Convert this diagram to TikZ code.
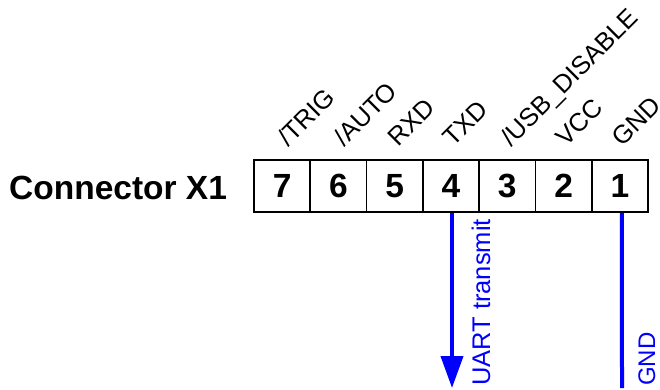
\documentclass[tikz,border=0pt]{standalone}
\usepackage{fontspec}
\setmainfont{Liberation Sans}
\usetikzlibrary{arrows.meta}
\definecolor{sigblue}{RGB}{0,0,255}
\begin{document}
\begin{tikzpicture}[x=1pt,y=-1pt,
  cell/.style={draw=black,line width=1.8pt,minimum width=56.3pt,minimum height=52pt,inner sep=0pt,
    font=\fontsize{33.5}{33.5}\selectfont\bfseries},
  pinlbl/.style={rotate=45,anchor=base west,inner sep=0pt,font=\fontsize{25.5}{25.5}\selectfont},
  sig/.style={draw=sigblue,line width=4pt},
  siglbl/.style={rotate=90,anchor=base west,inner sep=0pt,text=sigblue,font=\fontsize{24}{24}\selectfont}]
\useasboundingbox (0,0) rectangle (660,390);
\node[anchor=base west,inner sep=0pt,font=\fontsize{33.5}{33.5}\selectfont\bfseries] (title) at (9,199) {Connector X1};
\node[cell] (c7) at (282.1,186) {7};
\node[cell] (c6) at (338.4,186) {6};
\node[cell] (c5) at (394.7,186) {5};
\node[cell] (c4) at (451.0,186) {4};
\node[cell] (c3) at (507.3,186) {3};
\node[cell] (c2) at (563.6,186) {2};
\node[cell] (c1) at (619.9,186) {1};
\node[pinlbl] (l7) at (288,148) {/TRIG};
\node[pinlbl] (l6) at (344,148) {/AUTO};
\node[pinlbl] (l5) at (398,148) {RXD};
\node[pinlbl] (l4) at (453,148) {TXD};
\node[pinlbl] (l3) at (511,148) {/USB\_DISABLE};
\node[pinlbl] (l2) at (566,148) {VCC};
\node[pinlbl] (l1) at (622,148) {GND};
\coordinate (txend) at (452,388);
\coordinate (gndend) at (622,388);
\draw[sig,-{Triangle[width=22pt,length=32pt]}] ([xshift=1pt]c4.south) -- (txend);
\draw[sig] ([xshift=2pt]c1.south) -- (gndend);
\node[siglbl,font=\fontsize{25.5}{25.5}\selectfont] (txlbl) at (490,386) {UART transmit};
\node[siglbl] (gndlbl) at (655,386) {GND};
\end{tikzpicture}
\end{document}
